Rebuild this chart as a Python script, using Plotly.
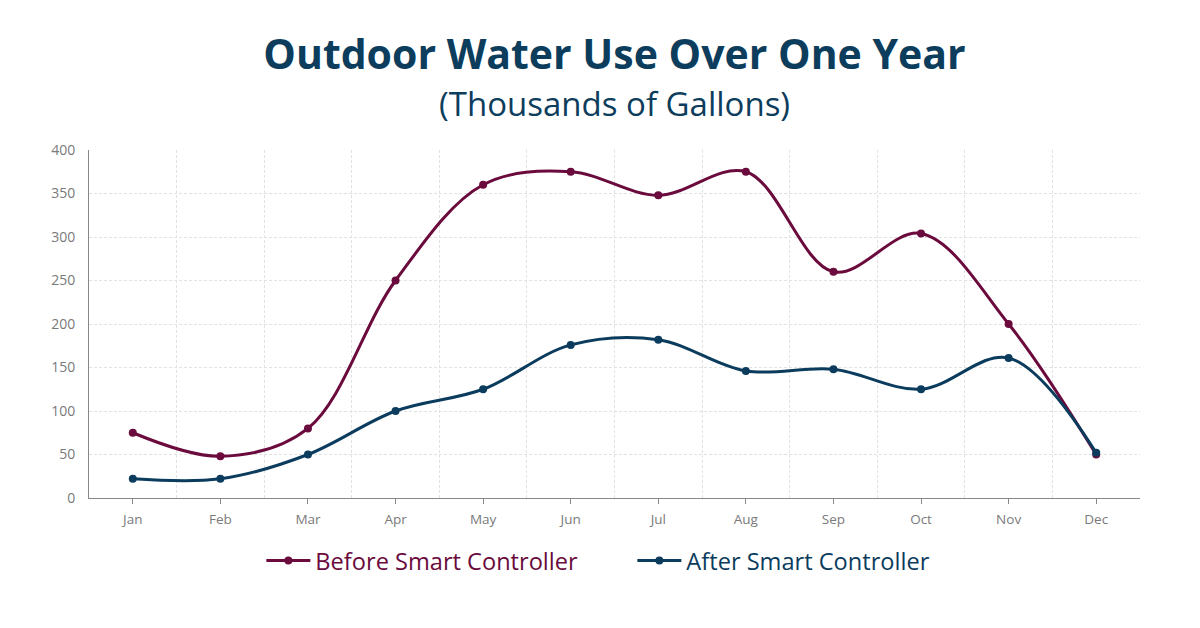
import plotly.graph_objects as go

months = ['Jan', 'Feb', 'Mar', 'Apr', 'May', 'Jun', 'Jul', 'Aug', 'Sep', 'Oct', 'Nov', 'Dec']
before = [75, 48, 80, 250, 360, 375, 348, 375, 260, 304, 200, 50]
after = [22, 22, 50, 100, 125, 176, 182, 146, 148, 125, 161, 52]
y_ticks = [0, 50, 100, 150, 200, 250, 300, 350, 400]

before_color = '#6b0a3c'
after_color = '#0b3c5d'
title_color = '#0d3d5c'
x = list(range(len(months)))

fig = go.Figure()
fig.add_trace(go.Scatter(
    x=x, y=before, mode='lines+markers',
    name='<span style="color:%s">Before Smart Controller</span>' % before_color,
    line=dict(color=before_color, width=3, shape='spline', smoothing=1),
    marker=dict(color=before_color, size=8)))
fig.add_trace(go.Scatter(
    x=x, y=after, mode='lines+markers',
    name='<span style="color:%s">After Smart Controller</span>' % after_color,
    line=dict(color=after_color, width=3, shape='spline', smoothing=1),
    marker=dict(color=after_color, size=8)))

fig.update_layout(
    width=1200, height=628,
    paper_bgcolor='white', plot_bgcolor='white',
    margin=dict(l=89, r=60, t=150, b=130),
    font=dict(family='Open Sans', color='#7a7a7a'),
    title=dict(
        text='<b>Outdoor Water Use Over One Year</b>',
        x=0.5, xref='paper', xanchor='center',
        y=1 - 55 / 628, yref='container', yanchor='middle',
        font=dict(family='Open Sans', size=41, color=title_color, weight=800)),
    legend=dict(
        orientation='h', x=0.164, xanchor='left', xref='paper',
        y=-0.18, yanchor='middle',
        font=dict(family='Open Sans', size=23.6),
        itemwidth=44, entrywidth=312, tracegroupgap=0),
    showlegend=True,
)

fig.add_annotation(
    text='(Thousands of Gallons)', showarrow=False,
    xref='paper', x=0.5, xanchor='center',
    yref='paper', y=1 + (150 - 103) / 348, yanchor='middle',
    font=dict(family='Open Sans', size=33, color=title_color, weight=500))

fig.update_xaxes(
    range=[-0.5, len(months) - 0.5],
    tickmode='array', tickvals=x, ticktext=months,
    showgrid=False, ticks='outside', ticklen=5, tickcolor='#888888',
    showline=True, linecolor='#888888', linewidth=1,
    tickfont=dict(size=13.5, color='#7a7a7a', weight=500), zeroline=False,
    ticklabelstandoff=4,
    minor=dict(tick0=-0.5, dtick=1, showgrid=True, gridcolor='#e2e2e2',
               griddash='3px,2px', gridwidth=1, ticks=''),
)
fig.update_yaxes(
    range=[0, 400], tickmode='array', tickvals=y_ticks,
    showgrid=True, gridcolor='#e2e2e2', griddash='3px,2px', gridwidth=1,
    showline=True, linecolor='#888888', linewidth=1,
    ticks='', tickfont=dict(size=14, color='#7a7a7a', weight=500), zeroline=False,
    ticklabelstandoff=10,
)

fig.write_html('out.html', config={'displayModeBar': False},
               post_script="document.body.style.margin='0';")
